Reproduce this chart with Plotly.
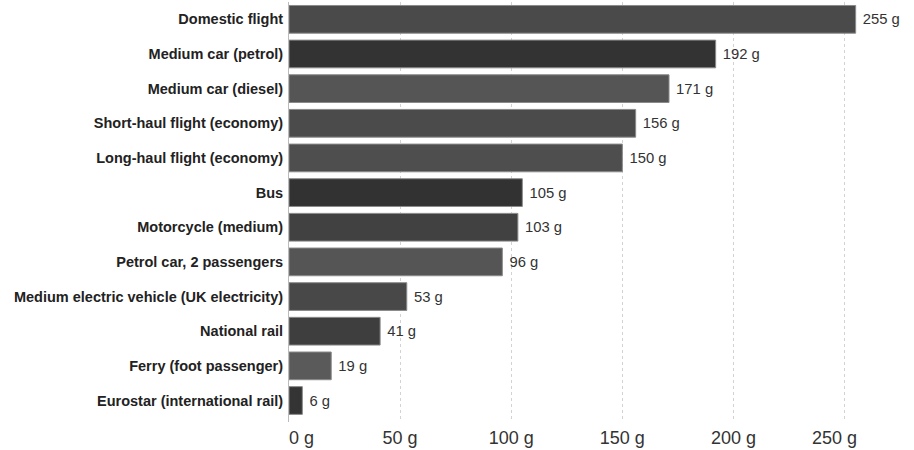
import plotly.graph_objects as go

categories = [
    "Domestic flight",
    "Medium car (petrol)",
    "Medium car (diesel)",
    "Short-haul flight (economy)",
    "Long-haul flight (economy)",
    "Bus",
    "Motorcycle (medium)",
    "Petrol car, 2 passengers",
    "Medium electric vehicle (UK electricity)",
    "National rail",
    "Ferry (foot passenger)",
    "Eurostar (international rail)",
]
values = [255, 192, 171, 156, 150, 105, 103, 96, 53, 41, 19, 6]
bar_colors = ["#4a4a4a", "#333333", "#555555", "#4b4b4b", "#4e4e4e", "#323232",
              "#414141", "#555555", "#484848", "#3e3e3e", "#5a5a5a", "#343434"]
tick_vals = [0, 50, 100, 150, 200, 250]
tick_text = ["\u00a0" * 5 + "0 g", "50 g", "100 g", "150 g", "200 g", "250 g" + "\u00a0" * 4]
value_labels = [f"\u00a0{v} g" for v in values]

fig = go.Figure(go.Bar(
    y=categories,
    x=values,
    orientation="h",
    marker=dict(color=bar_colors, line=dict(color="#8a8a8a", width=1)),
    text=value_labels,
    textposition="outside",
    textfont=dict(family="Liberation Sans, Arial, sans-serif", size=14.8, color="#333333"),
    cliponaxis=False,
    hoverinfo="skip",
))

fig.update_layout(
    width=914, height=450,
    margin=dict(l=289, r=25, t=2, b=28),
    plot_bgcolor="white", paper_bgcolor="white",
    bargap=0.2,
    showlegend=False,
    font=dict(family="Liberation Sans, Arial, sans-serif", color="#333333"),
)
fig.update_xaxes(
    range=[0, 270],
    tickvals=tick_vals, ticktext=tick_text,
    tickfont=dict(size=18, color="#333333"),
    ticklabelstandoff=3,
    showgrid=True, gridcolor="#d2d2d2", griddash="3px,3px", gridwidth=1,
    zeroline=False, showline=False, ticks="",
)
fig.update_yaxes(
    range=[11.62, -0.5],
    tickfont=dict(size=14.5, color="#222222", family="Liberation Sans, Arial, sans-serif", weight="bold"),
    ticks="", ticklabelstandoff=2,
    showline=True, linecolor="#bbbbbb", linewidth=1,
    showgrid=False,
)

fig.write_html("out.html")
